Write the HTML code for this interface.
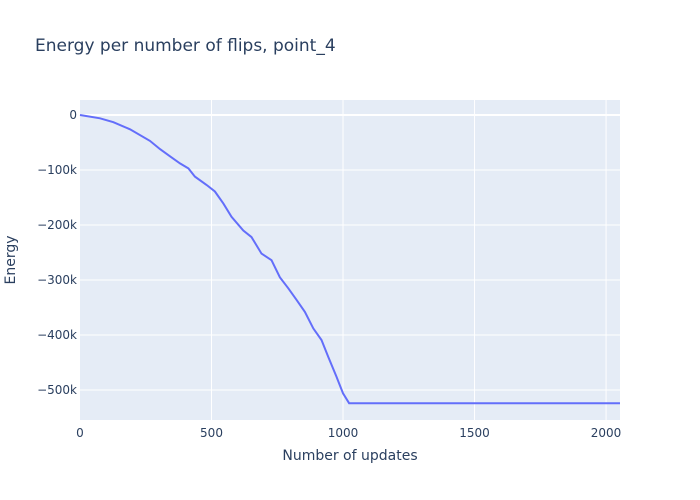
<!DOCTYPE html>
<html><head><meta charset="utf-8"><style>
body{margin:0;background:#fff;}
svg{display:block;font-family:"DejaVu Sans","Liberation Sans",sans-serif;}
</style></head><body>
<svg id="chart" width="700" height="500">
<rect x="0" y="0" width="700" height="500" fill="#fff"/>
<rect x="80" y="100" width="540" height="320" fill="#e5ecf6"/>
<g id="grid"></g>
<g id="ticks"></g>
<g id="series"></g>
<text x="35" y="51" font-size="17" fill="#2a3f5f">Energy per number of flips, point_4</text>
<text x="350" y="460" font-size="14" fill="#2a3f5f" text-anchor="middle">Number of updates</text>
<text x="15" y="260" font-size="14" fill="#2a3f5f" text-anchor="middle" transform="rotate(-90 15 260)">Energy</text>
</svg>
<script>
const xs=[0,76,127,190,266,304,342,380,412,437,481,513,545,576,621,652,690,728,760,792,823,855,887,918,944,975,1000,1023,2053];
const ys=[0,-6000,-13000,-26000,-47000,-62000,-75000,-88000,-97000,-112000,-127000,-139000,-161000,-185000,-210000,-222000,-252000,-264000,-295000,-315000,-336000,-358000,-388000,-409000,-440000,-476000,-506000,-524000,-524000];
const xTicks=[0,500,1000,1500,2000];
const xTickLabels=["0","500","1000","1500","2000"];
const yTicks=[0,-100000,-200000,-300000,-400000,-500000];
const yTickLabels=["0","\u2212100k","\u2212200k","\u2212300k","\u2212400k","\u2212500k"];
const X0=80,X1=620,Y0=100,Y1=420;
const xMin=0,xMax=2053,yMin=-554500,yMax=27300;
const sx=v=>X0+(v-xMin)/(xMax-xMin)*(X1-X0);
const sy=v=>Y1-(v-yMin)/(yMax-yMin)*(Y1-Y0);
const NS="http://www.w3.org/2000/svg";
const grid=document.getElementById('grid'),ticks=document.getElementById('ticks'),series=document.getElementById('series');
function mk(tag,attrs,parent){const e=document.createElementNS(NS,tag);for(const k in attrs)e.setAttribute(k,attrs[k]);parent.appendChild(e);return e;}
xTicks.forEach((v,i)=>{
  if(v>0){const l=mk('line',{x1:sx(v),x2:sx(v),y1:Y0,y2:Y1,stroke:'#fff','stroke-width':1},grid);
  
  }
  const t=mk('text',{x:sx(v),y:Y1+17,'font-size':12,fill:'#2a3f5f','text-anchor':'middle'},ticks);
  t.textContent=xTickLabels[i];
  
  
});
yTicks.forEach((v,i)=>{
  const l=mk('line',{x1:X0,x2:X1,y1:sy(v),y2:sy(v),stroke:'#fff','stroke-width':v===0?2:1},grid);
  
  
  const t=mk('text',{x:X0-3,y:sy(v)+4,'font-size':12,fill:'#2a3f5f','text-anchor':'end'},ticks);
  t.textContent=yTickLabels[i];
  
  
});
const d=xs.map((x,i)=>(i?'L':'M')+sx(x).toFixed(1)+','+sy(ys[i]).toFixed(1)).join('');
const p=mk('path',{d:d,fill:'none',stroke:'#636efa','stroke-width':2},series);


</script>
</body></html>
